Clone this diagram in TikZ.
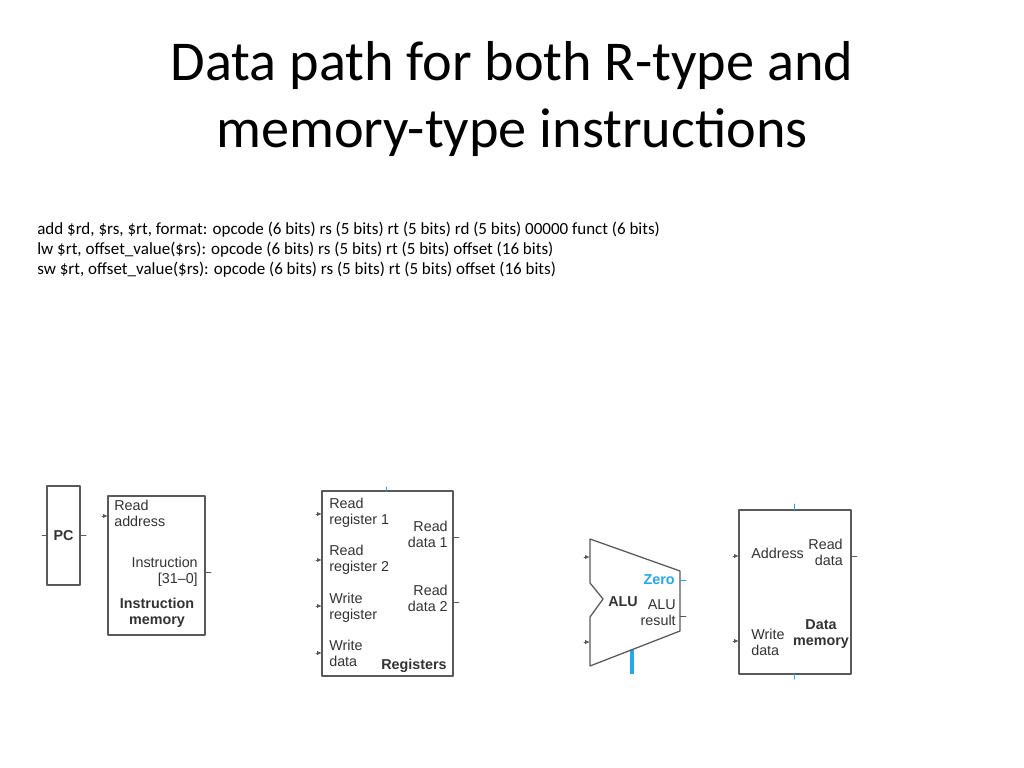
\documentclass[tikz,border=0pt]{standalone}
\usepackage{fontspec}
\setmainfont{Carlito}
\newfontfamily\hvfont[Ligatures=TeX]{Liberation Sans}
\usetikzlibrary{arrows.meta}
\definecolor{boxgray}{rgb}{0.35, 0.35, 0.35}
\definecolor{txtgray}{rgb}{0.2, 0.2, 0.2}
\definecolor{ctrlblue}{rgb}{0.15, 0.65, 0.92}
\tikzset{
  unit/.style={draw=boxgray, line width=0.9pt, fill=white, inner sep=0pt},
  lbl/.style={font=\hvfont\fontsize{10.2}{11.5}\selectfont, text=txtgray, inner sep=0pt},
  blbl/.style={lbl, font=\hvfont\bfseries\fontsize{10.2}{11.5}\selectfont},
  instub/.style={draw=boxgray, line width=0.6pt, -{Latex[length=3.5pt, width=3pt]}},
  outstub/.style={draw=boxgray, line width=0.6pt},
  ctrlstub/.style={draw=ctrlblue, line width=0.7pt}
}
\begin{document}
\begin{tikzpicture}[line cap=round,line join=round, x=0.025cm, y=-0.025cm]
\useasboundingbox (0,0) rectangle (1024,768);
% title and instruction formats
\node [anchor=base, font=\fontsize{40}{48}\selectfont] (title1) at (512,81) {Data path for both R-type and};
\node [anchor=base, font=\fontsize{40}{48}\selectfont] (title2) at (512,148) {memory-type instructions};
\node [anchor=base west, font=\fontsize{12.1}{14}\selectfont, inner sep=0pt] (fmtadd) at (37,234) {add \$rd, \$rs, \$rt, format: opcode (6 bits) rs (5 bits) rt (5 bits) rd (5 bits) 00000 funct (6 bits)};
\node [anchor=base west, font=\fontsize{12.1}{14}\selectfont, inner sep=0pt] (fmtlw) at (37,254) {lw \$rt, offset\_value(\$rs): opcode (6 bits) rs (5 bits) rt (5 bits) offset (16 bits)};
\node [anchor=base west, font=\fontsize{12.1}{14}\selectfont, inner sep=0pt] (fmtsw) at (37,274) {sw \$rt, offset\_value(\$rs): opcode (6 bits) rs (5 bits) rt (5 bits) offset (16 bits)};
% PC
\node [unit, minimum width=33*0.025cm, minimum height=99*0.025cm] (pc) at (63.5,535.5) {};
\node [blbl] (pclbl) at (pc) {PC};
\draw [outstub] (42,535) -- (47,535);
\draw [outstub] (80,535) -- (86,535);
% instruction memory
\node [unit, minimum width=97*0.025cm, minimum height=139*0.025cm] (imem) at (156.5,565.5) {};
\node [lbl, anchor=north west, align=left] (imaddr) at (114,500) {Read\\address};
\node [lbl, anchor=north east, align=right] (iminst) at (198,557) {Instruction\\{}[31--0]};
\node [blbl, anchor=north, align=center] (imname) at (157,598) {Instruction\\memory};
\draw [instub] (102,516) -- (108,516);
\draw [outstub] (205,572) -- (211,572);
% registers
\node [unit, minimum width=131*0.025cm, minimum height=185*0.025cm] (regs) at (387.5,583.5) {};
\node [lbl, anchor=north west, align=left] (rr1) at (329,498) {Read\\register 1};
\node [lbl, anchor=north west, align=left] (rr2) at (329,545) {Read\\register 2};
\node [lbl, anchor=north west, align=left] (wr) at (329,593) {Write\\register};
\node [lbl, anchor=north west, align=left] (wd) at (329,640) {Write\\data};
\node [lbl, anchor=north east, align=right] (rd1) at (448,521) {Read\\data 1};
\node [lbl, anchor=north east, align=right] (rd2) at (448,585) {Read\\data 2};
\node [blbl, anchor=base east] (regname) at (447,669) {Registers};
\foreach \y in {514,560,606,653}
  \draw [instub] (316,\y) -- (322,\y);
\draw [outstub] (453,537) -- (459,537);
\draw [outstub] (453,602) -- (459,602);
\draw [ctrlstub] (386,487) -- (386,491);
% ALU
\draw [ctrlblue, line width=2.2pt, line cap=butt] (632,649) -- (632,674);
\draw [unit] (590,539) -- (680,571) -- (680,631) -- (590,666) -- (590,617) -- (603,599) -- (590,583) -- cycle;
\node [blbl, anchor=west] (alulbl) at (608,602) {ALU};
\node [lbl, anchor=east, text=ctrlblue, font=\hvfont\bfseries\fontsize{10.2}{11.5}\selectfont] (zero) at (675,580) {Zero};
\node [lbl, anchor=north east, align=right] (alures) at (676,599) {ALU\\result};
\draw [instub] (584,557) -- (590,557);
\draw [instub] (584,642) -- (590,642);
\draw [ctrlstub] (680,580) -- (686,580);
\draw [outstub] (680,616) -- (686,616);
% data memory
\node [unit, minimum width=112*0.025cm, minimum height=164*0.025cm] (dmem) at (795,592) {};
\node [lbl, anchor=west] (dmaddr) at (751,553) {Address};
\node [lbl, anchor=north east, align=right] (dmrd) at (843,539) {Read\\data};
\node [lbl, anchor=north west, align=left] (dmwd) at (751,629) {Write\\data};
\node [blbl, anchor=north, align=center] (dmname) at (821,619) {Data\\memory};
\draw [instub] (733,556) -- (739,556);
\draw [instub] (733,641) -- (739,641);
\draw [outstub] (851,556) -- (857,556);
\draw [ctrlstub] (794,504) -- (794,510);
\draw [ctrlstub] (794,674) -- (794,679);
\end{tikzpicture}
\end{document}
